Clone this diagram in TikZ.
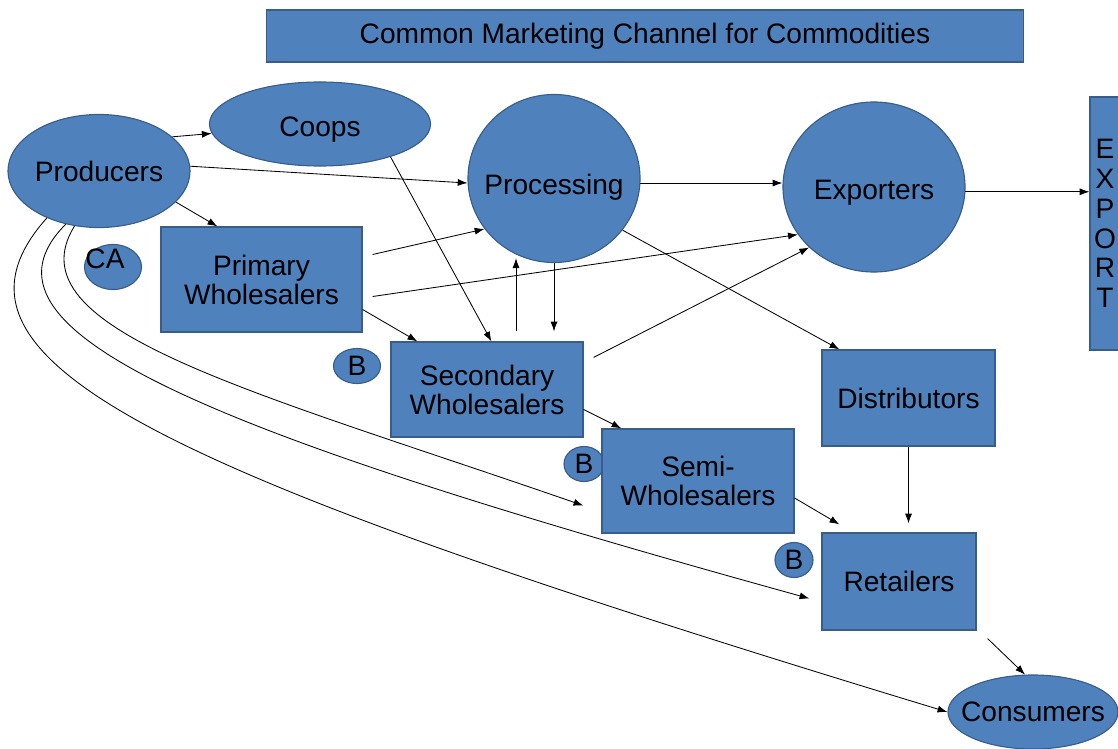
\documentclass[tikz,border=0pt]{standalone}
\usepackage{fontspec}
\setmainfont{Liberation Sans}
\usetikzlibrary{arrows.meta, shapes.geometric, calc}

\definecolor{chanblue}{RGB}{79,129,189}
\definecolor{chanedge}{RGB}{56,93,138}

\begin{document}
\begin{tikzpicture}[x=0.025cm, y=-0.025cm, font=\fontsize{20}{20.6}\selectfont]
	\useasboundingbox (0,0) rectangle (1118,749);
	\clip (0,0) rectangle (1118,749);

	\begin{scope}[every node/.style={draw=chanedge, fill=chanblue, line width=0.8pt, inner sep=0pt, align=center}]
		\node[minimum width=18.9cm, minimum height=1.3cm] (title) at (645,36) {Common Marketing Channel for Commodities};
		% round ones
		\node[ellipse, minimum width=4.55cm, minimum height=2.825cm] (prod) at (99,171) {\makebox[0pt]{Producers}};
		\node[ellipse, minimum width=5.525cm, minimum height=2.1cm] (coops) at (320,124) {\makebox[0pt]{\smash{\raisebox{-0.3cm}{Coops}}}};
		\node[ellipse, minimum width=4.3cm, minimum height=4.2cm] (proc) at (554,178.5) {\makebox[0pt]{\smash{\raisebox{-0.39cm}{Processing}}}};
		\node[ellipse, minimum width=4.55cm, minimum height=4.25cm] (exp) at (874,187) {\makebox[0pt]{\smash{\raisebox{-0.3cm}{Exporters}}}};
		\node[ellipse, minimum width=4.25cm, minimum height=1.85cm] (cons) at (1033,712) {\makebox[0pt]{Consumers}};
		\node[ellipse, minimum width=1.425cm, minimum height=1.125cm] (ca) at (113,267) {};
		\node[ellipse, minimum width=1.175cm, minimum height=0.875cm] (bsec) at (357,366) {B};
		\node[ellipse, minimum width=1.0cm, minimum height=0.875cm] (bsemi) at (584,464) {B};
		\node[ellipse, minimum width=0.95cm, minimum height=0.875cm] (bret) at (794,560) {B};
		% boxes
		\node[minimum width=5.025cm, minimum height=2.625cm] (prim) at (261.5,279.5) {Primary\\Wholesalers};
		\node[minimum width=4.8cm, minimum height=2.375cm] (sec) at (487,389.5) {Secondary\\Wholesalers};
		\node[minimum width=4.8cm, minimum height=2.6cm] (semi) at (698,481) {Semi-\\Wholesalers};
		\node[minimum width=4.325cm, minimum height=2.4cm] (dist) at (908.5,398) {Distributors};
		\node[minimum width=3.85cm, minimum height=2.425cm] (ret) at (899,581.5) {Retailers};
		\node[minimum width=0.75cm, minimum height=6.325cm, font=\fontsize{20}{21.2}\selectfont] (export) at (1105,223.5) {E\\X\\P\\O\\R\\T};
	\end{scope}
	\node (catext) at (105,259) {CA};

	\begin{scope}[>={Latex[length=7pt, width=5pt]},
              every edge/.style={draw, line width=0.6pt}]
		\path [->] (prod.25) edge (coops.185);
		\path [->] (prod.3) edge (proc.183);
		\path [->] (prod.338) edge ($(prim.north west)+(57,0)$);
		\path [->] (coops.335) edge ($(sec.north west)+(101,0)$);
		\path [->] ($(prim.east)+(10,-25)$) edge (proc.216);
		\path [->] ($(prim.east)+(10,17)$) edge (exp.212);
		\path [->] ($(prim.east)+(0,30)$) edge ($(sec.north west)+(27,0)$);
		\coordinate (supup) at ($(sec.north)+(29,-10)$);
		\path [->] (supup) edge (supup |- proc.250);
		\path [->] (proc.south) edge[shorten >=0.25cm] (proc.south |- sec.north);
		\path [->] ($(sec.north east)+(10,16)$) edge (exp.223);
		\path [->] (proc.323) edge ($(dist.north west)+(18,0)$);
		\path [->] (proc.357) edge (proc.357 -| exp.west);
		\path [->] (exp.357) edge (exp.357 -| export.west);
		\path [->] ($(sec.east)+(0,20)$) edge ($(semi.north west)+(20,0)$);
		\path [->] ($(semi.east)+(0,17)$) edge ($(ret.north west)+(18,-8)$);
		\path [->] (dist.south) edge[shorten >=0.225cm] (dist.south |- ret.north);
		\path [->] ($(ret.south east)+(11,8)$) edge (cons.102);
		% straight past the middlemen
		\draw [->, line width=0.6pt] (prod.246) .. controls (10,330) and (250,390) .. ($(semi.south west)+(-18,-28)$);
		\draw [->, line width=0.6pt] (prod.238) .. controls (-40,330) and (200,430) .. ($(ret.west)+(-12,17)$);
		\draw [->, line width=0.6pt] (prod.222) .. controls (-80,360) and (150,470) .. (cons.west);
	\end{scope}
\end{tikzpicture}
\end{document}
